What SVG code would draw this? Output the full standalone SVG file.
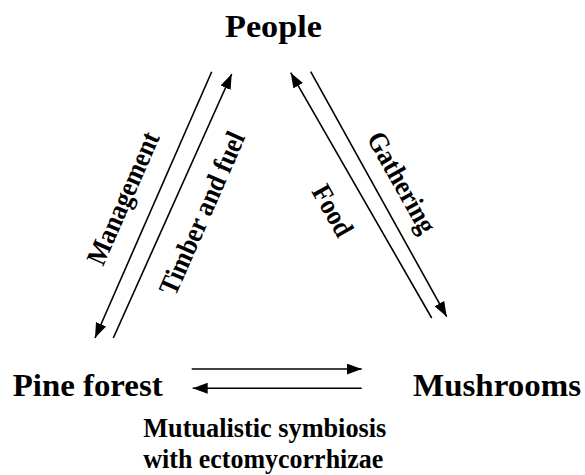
<svg xmlns="http://www.w3.org/2000/svg" width="585" height="475" viewBox="0 0 585 475">
<style>
text{font-family:"Liberation Serif","Times New Roman",serif;font-weight:bold;fill:#000}
.node{font-size:31px}
.lbl{font-size:28px}
.ln{stroke:#000;stroke-width:1.6;fill:none}
</style>
<defs>
<marker id="ah" markerUnits="userSpaceOnUse" markerWidth="16" markerHeight="12" refX="15" refY="5.5" orient="auto">
<path d="M0,0 L15,5.5 L0,11 z" fill="#000"/>
</marker>
</defs>
<rect width="585" height="475" fill="#fff"/>
<g id="people"><text class="node" x="273.5" y="37" text-anchor="middle" textLength="97" lengthAdjust="spacingAndGlyphs">People</text></g>
<g id="pine-forest"><text class="node" x="12.7" y="395.5" textLength="150" lengthAdjust="spacingAndGlyphs">Pine forest</text></g>
<g id="mushrooms"><text class="node" x="413" y="396" textLength="168" lengthAdjust="spacingAndGlyphs">Mushrooms</text></g>
<g id="connectors">
<line class="ln" x1="211.7" y1="71.7" x2="95" y2="338" marker-end="url(#ah)"/>
<line class="ln" x1="113.3" y1="338" x2="231.7" y2="74" marker-end="url(#ah)"/>
<line class="ln" x1="431.7" y1="318" x2="290.7" y2="72.7" marker-end="url(#ah)"/>
<line class="ln" x1="310.7" y1="71.7" x2="446.7" y2="316.7" marker-end="url(#ah)"/>
<line class="ln" x1="191.7" y1="369" x2="361.7" y2="369" marker-end="url(#ah)"/>
<line class="ln" x1="361.7" y1="388.3" x2="192.7" y2="388.3" marker-end="url(#ah)"/>
<text class="lbl" transform="translate(131.5,202) rotate(-66.3)" text-anchor="middle" textLength="142" lengthAdjust="spacingAndGlyphs">Management</text>
<text class="lbl" transform="translate(210.5,217) rotate(-66.3)" text-anchor="middle" textLength="175" lengthAdjust="spacingAndGlyphs">Timber and fuel</text>
<text class="lbl" transform="translate(324.6,215.2) rotate(60.5)" text-anchor="middle" textLength="55" lengthAdjust="spacingAndGlyphs">Food</text>
<text class="lbl" transform="translate(393.8,186.9) rotate(60.5)" text-anchor="middle" textLength="112" lengthAdjust="spacingAndGlyphs">Gathering</text>
<text class="lbl" x="143.3" y="436.7" textLength="243" lengthAdjust="spacingAndGlyphs">Mutualistic symbiosis</text>
<text class="lbl" x="143.3" y="468.3" textLength="240" lengthAdjust="spacingAndGlyphs">with ectomycorrhizae</text>
</g>
</svg>
